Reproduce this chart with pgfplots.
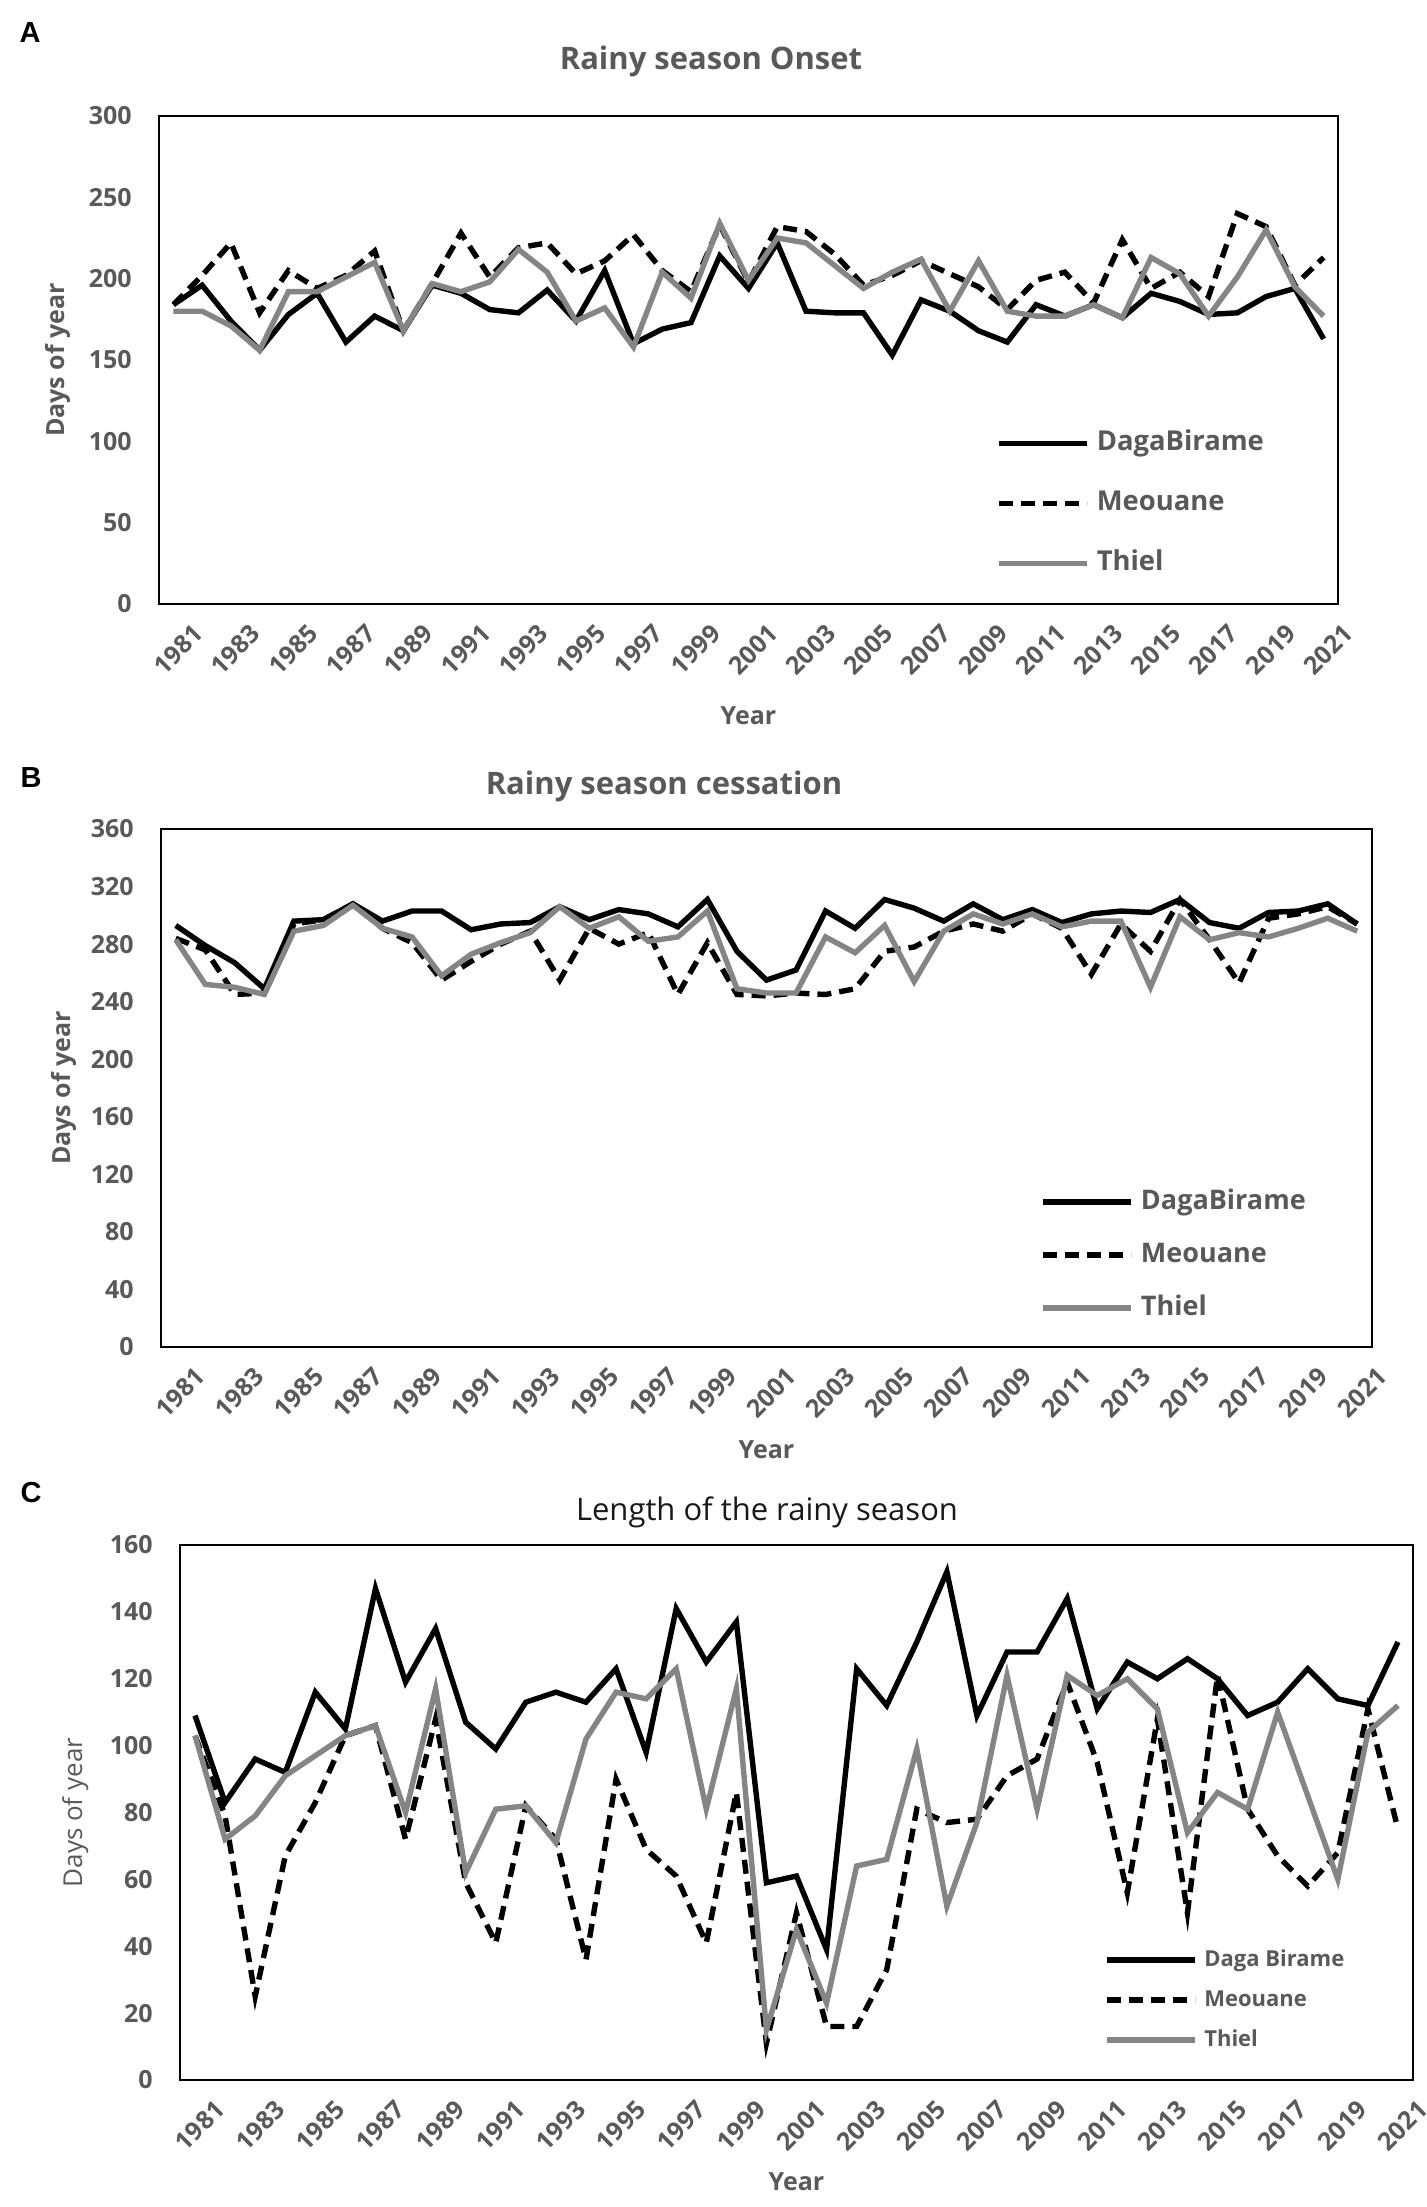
\documentclass[border=0pt]{standalone}
\usepackage{fontspec}
\setmainfont{Open Sans}
\newfontfamily\arialfont{Liberation Sans}
\usepackage{pgfplots}
\usepackage{pgfplotstable}
\pgfplotsset{compat=1.18}

\definecolor{txtgray}{HTML}{595959}
\definecolor{linegray}{HTML}{858585}

% year, DagaBirame, Meouane, Thiel
\pgfplotstableread{
year dg me th
1981 184 184 180
1982 196 202 180
1983 174 222 171
1984 156 179 156
1985 178 205 192
1986 191 194 192
1987 161 202 201
1988 177 217 210
1989 168 168 168
1990 196 197 197
1991 191 228 192
1992 181 201 198
1993 179 219 218
1994 193 222 204
1995 174 203 174
1996 205 211 182
1997 160 227 158
1998 169 205 204
1999 173 192 188
2000 214 233 234
2001 194 198 199
2002 222 232 225
2003 180 229 222
2004 179 215 208
2005 179 196 194
2006 153 202 204
2007 187 211 212
2008 180 203 180
2009 168 195 211
2010 161 181 180
2011 184 199 177
2012 177 204 177
2013 184 185 184
2014 176 224 176
2015 191 194 213
2016 186 204 203
2017 178 189 177
2018 179 240 201
2019 189 232 230
2020 194 196 195
2021 163 213 177
}\onset

\pgfplotstableread{
year dg me th
1981 293 284 283
1982 279 276 252
1983 267 245 250
1984 249 246 245
1985 296 294 289
1986 297 297 293
1987 308 308 307
1988 296 291 291
1989 303 281 285
1990 303 255 258
1991 290 268 273
1992 294 280 281
1993 295 289 288
1994 306 255 306
1995 297 291 291
1996 304 280 299
1997 301 288 282
1998 292 245 285
1999 311 281 303
2000 275 245 249
2001 255 244 246
2002 262 246 246
2003 303 245 285
2004 291 249 274
2005 311 275 293
2006 305 278 254
2007 296 289 289
2008 308 294 301
2009 297 289 294
2010 304 301 301
2011 295 291 292
2012 301 259 296
2013 303 294 296
2014 302 275 250
2015 311 311 299
2016 295 283 283
2017 291 253 288
2018 302 298 285
2019 303 301 291
2020 308 306 298
2021 294 294 289
}\cessation

\pgfplotstableread{
year dg me th
1981 109 103 103
1982 83 79 72
1983 96 25 79
1984 92 67 91
1985 116 83 97
1986 105 103 103
1987 147 106 106
1988 119 72 80
1989 135 108 117
1990 107 59 62
1991 99 41 81
1992 113 82 82
1993 116 72 71
1994 113 36 102
1995 123 90 116
1996 98 69 114
1997 141 61 123
1998 125 41 81
1999 137 86 117
2000 59 11 15
2001 61 50 45
2002 39 16 23
2003 123 16 64
2004 112 33 66
2005 131 81 99
2006 152 77 52
2007 109 78 77
2008 128 91 121
2009 128 96 81
2010 144 119 121
2011 111 95 115
2012 125 56 120
2013 120 108 111
2014 126 50 74
2015 120 121 86
2016 109 81 81
2017 113 67 110
2018 123 58 85
2019 114 68 60
2020 112 111 104
2021 131 75 112
}\lengthrs

\pgfplotsset{
  legend image code/.code={\draw[#1] (0pt,0pt) -- (44pt,0pt);},
  panel/.style={
    scale only axis,
    xmin=1980.5, xmax=2021.5,
    xtick={1981,1983,...,2021},
    major tick length=0pt,
    axis line style={line width=1.3pt},
    /pgf/number format/assume math mode=true,
    /pgf/number format/1000 sep={},
    x tick label style={rotate=45, anchor=north east, inner sep=0pt, yshift=-13pt,
      font=\fontsize{12.5}{14}\selectfont\bfseries, text=txtgray},
    y tick label style={anchor=east, inner sep=0pt, xshift=-13.5pt,
      font=\fontsize{12.5}{14}\selectfont\bfseries, text=txtgray},
    xlabel style={anchor=center, font=\fontsize{12.5}{14}\selectfont\bfseries, text=txtgray},
    ylabel style={anchor=center, rotate=0, font=\fontsize{12.5}{14}\selectfont\bfseries, text=txtgray},
    legend cell align=left,
    legend style={draw=none, fill=none, inner sep=0pt, anchor=west, text=txtgray,
      /tikz/column 1/.style={column sep=3.5pt}},
    clip=false,
  },
  dg/.style={black, line width=2.7pt},
  me/.style={black, line width=2.7pt, dash pattern=on 7pt off 4pt},
  th/.style={linegray, line width=2.7pt},
}

\begin{document}
\begin{tikzpicture}
\useasboundingbox (0pt,0pt) rectangle (713pt,-1103.5pt);

% ---------- A
\node[font=\arialfont\fontsize{14.5}{16}\selectfont\bfseries] at (15pt,-16.5pt) {A};
\node[font=\fontsize{15.5}{18}\selectfont\bfseries, text=txtgray] at (355.5pt,-30.5pt) {Rainy season Onset};
\begin{axis}[panel,
  at={(79.5pt,-58pt)}, anchor=north west,
  width=589.5pt, height=244pt,
  ymin=0, ymax=300, ytick={0,50,...,300},
  xlabel={Year}, ylabel={Days of year},
  xlabel style={at={(axis description cs:0.5,-0.2295)}},
  ylabel style={at={(axis description cs:-0.0861,0.5)}},
  legend style={at={(axis description cs:0.7099,0.2055)},
    font=\fontsize{13.7}{16}\selectfont\bfseries,
    nodes={inner sep=0pt, text height=10pt, text depth=3pt}, row sep=17pt},
]
\addplot[dg] table[x=year, y=dg] {\onset};
\addlegendentry{DagaBirame}
\addplot[me] table[x=year, y=me] {\onset};
\addlegendentry{Meouane}
\addplot[th] table[x=year, y=th] {\onset};
\addlegendentry{Thiel}
\end{axis}

% ---------- B
\node[font=\arialfont\fontsize{14.5}{16}\selectfont\bfseries] at (15.5pt,-389pt) {B};
\node[font=\fontsize{15.5}{18}\selectfont\bfseries, text=txtgray] at (332pt,-393pt) {Rainy season cessation};
\begin{axis}[panel,
  at={(80.5pt,-414.5pt)}, anchor=north west,
  width=605.5pt, height=259pt,
  ymin=0, ymax=360, ytick={0,40,...,360},
  xlabel={Year}, ylabel={Days of year},
  xlabel style={at={(axis description cs:0.5,-0.199)}},
  ylabel style={at={(axis description cs:-0.0805,0.5)}},
  legend style={at={(axis description cs:0.726,0.1776)},
    font=\fontsize{13.5}{16}\selectfont\bfseries,
    nodes={inner sep=0pt, text height=10pt, text depth=3pt}, row sep=13.5pt},
]
\addplot[dg] table[x=year, y=dg] {\cessation};
\addlegendentry{DagaBirame}
\addplot[me] table[x=year, y=me] {\cessation};
\addlegendentry{Meouane}
\addplot[th] table[x=year, y=th] {\cessation};
\addlegendentry{Thiel}
\end{axis}

% ---------- C
\node[font=\arialfont\fontsize{14.5}{16}\selectfont\bfseries] at (15.5pt,-746pt) {C};
\node[font=\fontsize{15.5}{18}\selectfont, text=black!90] at (383.5pt,-756pt) {Length of the rainy season};
\begin{axis}[panel,
  at={(90pt,-772.5pt)}, anchor=north west,
  width=616.5pt, height=267.5pt,
  ymin=0, ymax=160, ytick={0,20,...,160},
  xlabel={Year}, ylabel={Days of year},
  xlabel style={at={(axis description cs:0.5,-0.19)}},
  ylabel style={at={(axis description cs:-0.085,0.5)}, font=\fontsize{13}{14}\selectfont},
  legend style={at={(axis description cs:0.749,0.1495)},
    font=\fontsize{11}{14}\selectfont\bfseries,
    nodes={inner sep=0pt, text height=8.5pt, text depth=2.5pt}, row sep=9pt},
]
\addplot[dg] table[x=year, y=dg] {\lengthrs};
\addlegendentry{Daga Birame}
\addplot[me] table[x=year, y=me] {\lengthrs};
\addlegendentry{Meouane}
\addplot[th] table[x=year, y=th] {\lengthrs};
\addlegendentry{Thiel}
\end{axis}
\end{tikzpicture}
\end{document}
